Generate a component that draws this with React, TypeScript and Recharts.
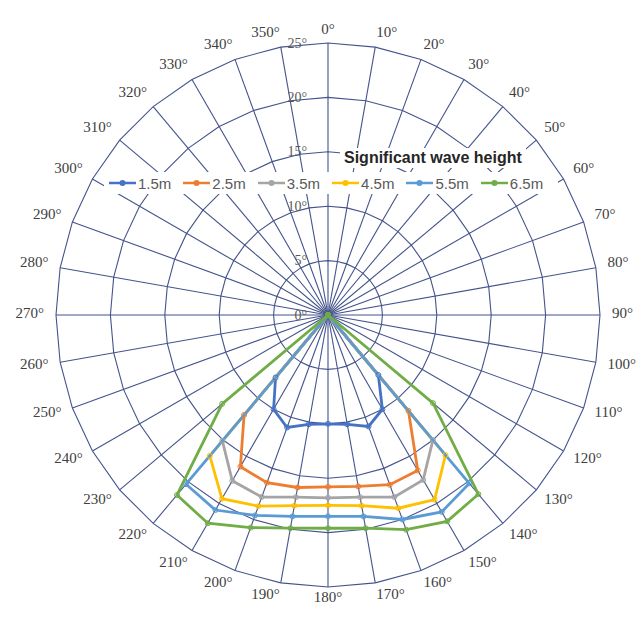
import {
  RadarChart,
  Radar,
  PolarGrid,
  PolarAngleAxis,
  PolarRadiusAxis,
} from "recharts";

// direction labels, clockwise from north
const angles = [
  "0°", "10°", "20°", "30°", "40°", "50°", "60°", "70°", "80°",
  "90°", "100°", "110°", "120°", "130°", "140°", "150°", "160°", "170°",
  "180°", "190°", "200°", "210°", "220°", "230°", "240°", "250°", "260°",
  "270°", "280°", "290°", "300°", "310°", "320°", "330°", "340°", "350°",
];

// values per direction (0°..350°) for each significant wave height
const h15 = [
  0, 0, 0, 0, 0, 0, 0, 0, 0, 0, 0, 0, 0, 0,
  7.2, 10.0, 10.9, 10.2, 10.0, 10.2, 11.0, 10.0, 7.5,
  0, 0, 0, 0, 0, 0, 0, 0, 0, 0, 0, 0, 0,
];
const h25 = [
  0, 0, 0, 0, 0, 0, 0, 0, 0, 0, 0, 0, 0, 0,
  11.5, 16.5, 16.6, 16.0, 15.8, 16.1, 16.4, 16.1, 12.0,
  0, 0, 0, 0, 0, 0, 0, 0, 0, 0, 0, 0, 0,
];
const h35 = [
  0, 0, 0, 0, 0, 0, 0, 0, 0, 0, 0, 0, 0, 0,
  15.0, 17.5, 17.8, 17.0, 16.8, 17.0, 17.8, 17.6, 15.1,
  0, 0, 0, 0, 0, 0, 0, 0, 0, 0, 0, 0, 0,
];
const h45 = [
  0, 0, 0, 0, 0, 0, 0, 0, 0, 0, 0, 0, 0, 0,
  16.8, 19.6, 18.9, 17.8, 17.5, 17.8, 18.7, 19.5, 16.9,
  0, 0, 0, 0, 0, 0, 0, 0, 0, 0, 0, 0, 0,
];
const h55 = [
  0, 0, 0, 0, 0, 0, 0, 0, 0, 0, 0, 0, 0, 0,
  20.2, 20.9, 20.0, 18.8, 18.5, 18.8, 19.6, 20.7, 20.3,
  0, 0, 0, 0, 0, 0, 0, 0, 0, 0, 0, 0, 0,
];
const h65 = [
  0, 0, 0, 0, 0, 0, 0, 0, 0, 0, 0, 0, 0,
  12.6, 21.5, 21.9, 21.0, 19.9, 19.6, 19.9, 20.8, 22.1, 21.6, 12.7,
  0, 0, 0, 0, 0, 0, 0, 0, 0, 0, 0, 0,
];

const seriesNames = ["1.5m", "2.5m", "3.5m", "4.5m", "5.5m", "6.5m"];
const seriesKeys = ["h15", "h25", "h35", "h45", "h55", "h65"];
const seriesColors = ["#4472C4", "#ED7D31", "#A5A5A5", "#FFC000", "#5B9BD5", "#70AD47"];

const data = angles.map((a, i) => ({
  angle: a,
  h15: h15[i],
  h25: h25[i],
  h35: h35[i],
  h45: h45[i],
  h55: h55[i],
  h65: h65[i],
}));

const CX = 328;
const CY = 315;
const R = 272;
const GRID = "#44538C";

function AngleTick(props: any) {
  const { x, y, payload } = props;
  const dx = x - CX;
  const dy = y - CY;
  const d = Math.hypot(dx, dy) || 1;
  const sin = dx / d;
  const cos = -dy / d;
  const gap = 5 + 7 * Math.abs(sin);
  const px = CX + sin * (R + gap);
  const py = CY - cos * (R + gap) - 7 * cos - 2;
  let anchor = "middle";
  if (sin > 0.02) anchor = "start";
  else if (sin < -0.02) anchor = "end";
  return (
    <text
      x={px}
      y={py}
      textAnchor={anchor}
      dominantBaseline="central"
      fontFamily="Liberation Serif"
      fontSize={15}
      fill="#404040"
    >
      {payload.value}
    </text>
  );
}

function RadiusTick(props: any) {
  const { y, payload } = props;
  return (
    <text
      x={CX - 21}
      y={y}
      textAnchor="end"
      dominantBaseline="central"
      fontFamily="Liberation Serif"
      fontSize={14}
      fill="#595959"
    >
      {payload.value}°
    </text>
  );
}

function WaveLegend() {
  return (
    <>
      <div
        style={{
          position: "absolute",
          left: 340,
          top: 148,
          padding: "0 4px",
          background: "#fff",
          fontFamily: "Liberation Sans",
          fontWeight: "bold",
          fontSize: 16,
          lineHeight: "20px",
          color: "#262626",
        }}
      >
        Significant wave height
      </div>
      <div
        style={{
          position: "absolute",
          left: 104,
          top: 172,
          height: 22,
          padding: "0 4px",
          background: "#fff",
          display: "flex",
          alignItems: "center",
        }}
      >
        {seriesNames.map((name, i) => (
          <div
            key={name}
            style={{ display: "flex", alignItems: "center", marginRight: 11 }}
          >
            <svg width={29} height={12}>
              <line
                x1={1}
                y1={6}
                x2={28}
                y2={6}
                stroke={seriesColors[i]}
                strokeWidth={2.5}
              />
              <circle cx={14.5} cy={6} r={3} fill={seriesColors[i]} />
            </svg>
            <span
              style={{
                fontFamily: "Liberation Sans",
                fontSize: 15,
                color: "#595959",
                marginLeft: 1,
              }}
            >
              {name}
            </span>
          </div>
        ))}
      </div>
    </>
  );
}

export default function App() {
  return (
    <div
      style={{
        position: "absolute",
        left: 0,
        top: 0,
        width: 638,
        height: 617,
        background: "#fff",
      }}
    >
      <RadarChart
        width={638}
        height={617}
        data={data}
        cx={CX}
        cy={CY}
        outerRadius={R}
        margin={{ top: 0, right: 0, bottom: 0, left: 0 }}
      >
        <PolarGrid gridType="polygon" stroke={GRID} strokeWidth={1.1} />
        <PolarAngleAxis
          dataKey="angle"
          tick={<AngleTick />}
          tickLine={false}
          axisLine={false}
        />
        <PolarRadiusAxis
          angle={90}
          domain={[0, 25]}
          tickCount={6}
          axisLine={false}
          tick={<RadiusTick />}
        />
        {seriesKeys.map((k, i) => (
          <Radar
            key={k}
            name={seriesNames[i]}
            dataKey={k}
            stroke={seriesColors[i]}
            strokeWidth={2.8}
            fill="none"
            fillOpacity={0}
            dot={{ r: 2.5, fill: seriesColors[i], stroke: seriesColors[i], strokeWidth: 1 }}
            isAnimationActive={false}
          />
        ))}
      </RadarChart>
      <WaveLegend />
    </div>
  );
}
